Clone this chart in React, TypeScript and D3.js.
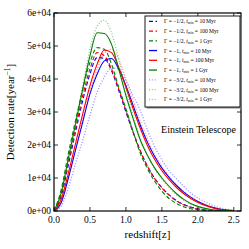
import React from 'react';
import * as d3 from 'd3';

// redshift grid the curves were read at
const zGrid = [0, 0.1, 0.2, 0.3, 0.4, 0.5, 0.6, 0.7, 0.8, 0.9, 1.0, 1.1, 1.2, 1.3, 1.4, 1.5, 1.6, 1.7, 1.8, 1.9, 2.0, 2.1, 2.2, 2.3, 2.4, 2.5];

// detection rates, in units of 1e4 per year
const blueDashed = [0, 0.45, 1.4, 2.4, 3.35, 4.15, 4.65, 4.62, 4.25, 3.65, 3.0, 2.38, 1.82, 1.36, 0.99, 0.71, 0.49, 0.32, 0.2, 0.12, 0.07, 0.03, 0.01, 0, 0, 0];
const redDashed = [0, 0.5, 1.5, 2.5, 3.5, 4.3, 4.8, 4.7, 4.3, 3.7, 3.05, 2.4, 1.82, 1.35, 0.98, 0.7, 0.48, 0.31, 0.19, 0.11, 0.06, 0.03, 0.01, 0, 0, 0];
const greenDashed = [0, 0.65, 1.75, 2.75, 3.7, 4.5, 4.95, 4.9, 4.45, 3.75, 3.1, 2.4, 1.75, 1.28, 0.9, 0.6, 0.38, 0.23, 0.13, 0.07, 0.04, 0.02, 0.01, 0, 0, 0];
const blueSolid = [0, 0.25, 1.0, 1.85, 2.7, 3.55, 4.15, 4.55, 4.62, 4.3, 3.8, 3.2, 2.6, 2.08, 1.65, 1.3, 1.02, 0.78, 0.58, 0.42, 0.29, 0.19, 0.11, 0.06, 0.03, 0.01];
const redSolid = [0, 0.35, 1.15, 2.05, 2.95, 3.8, 4.45, 4.88, 4.8, 4.35, 3.75, 3.1, 2.5, 1.98, 1.56, 1.22, 0.95, 0.72, 0.53, 0.38, 0.26, 0.17, 0.1, 0.05, 0.02, 0.01];
const greenSolid = [0, 0.55, 1.6, 2.65, 3.7, 4.7, 5.4, 5.38, 5.05, 4.3, 3.5, 2.8, 2.15, 1.68, 1.3, 1.0, 0.75, 0.53, 0.36, 0.23, 0.14, 0.08, 0.04, 0.02, 0.01, 0];
const blueDotted = [0, 0.15, 0.7, 1.45, 2.15, 2.9, 3.6, 4.05, 4.33, 4.3, 3.95, 3.5, 3.05, 2.45, 1.95, 1.55, 1.22, 0.98, 0.75, 0.55, 0.4, 0.28, 0.18, 0.1, 0.05, 0.02];
const redDotted = [0, 0.25, 1.0, 1.9, 2.8, 3.65, 4.3, 4.78, 4.9, 4.6, 4.0, 3.35, 2.72, 2.18, 1.72, 1.35, 1.05, 0.8, 0.6, 0.43, 0.3, 0.2, 0.12, 0.06, 0.03, 0.01];
const greenDotted = [0, 0.5, 1.55, 2.65, 3.8, 4.9, 5.6, 5.78, 5.4, 4.6, 3.7, 2.9, 2.2, 1.68, 1.28, 0.97, 0.72, 0.5, 0.33, 0.21, 0.12, 0.07, 0.03, 0.01, 0, 0];

const gammaLabels = ['\u22121/2', '\u22121/2', '\u22121/2', '\u22121', '\u22121', '\u22121', '\u22123/2', '\u22123/2', '\u22123/2'];
const tminLabels = ['10\u2009Myr', '100\u2009Myr', '1\u2009Gyr', '10\u2009Myr', '100\u2009Myr', '1\u2009Gyr', '10\u2009Myr', '100\u2009Myr', '1\u2009Gyr'];

const xTicks = [0, 0.5, 1.0, 1.5, 2.0, 2.5];
const yTicks = [0, 1, 2, 3, 4, 5, 6];
const yTickLabels = ['0e+00', '1e+04', '2e+04', '3e+04', '4e+04', '5e+04', '6e+04'];

const series = [
  { values: blueDashed, color: '#0000ff', style: 'dashed' },
  { values: redDashed, color: '#ff0000', style: 'dashed' },
  { values: greenDashed, color: '#008000', style: 'dashed' },
  { values: blueSolid, color: '#0000ff', style: 'solid' },
  { values: redSolid, color: '#ff0000', style: 'solid' },
  { values: greenSolid, color: '#008000', style: 'solid' },
  { values: blueDotted, color: '#0000ff', style: 'dotted' },
  { values: redDotted, color: '#ff0000', style: 'dotted' },
  { values: greenDotted, color: '#008000', style: 'dotted' },
];

const dashFor = (style: string) => (style === 'dashed' ? '4,2.5' : style === 'dotted' ? '1,1.8' : undefined);

export default function App() {
  const width = 249;
  const height = 249;
  const margin = { top: 13, right: 8, bottom: 38, left: 54 };
  const innerW = width - margin.left - margin.right;
  const innerH = height - margin.top - margin.bottom;

  const x = d3.scaleLinear().domain([0, 2.6]).range([0, innerW]);
  const y = d3.scaleLinear().domain([0, 6]).range([innerH, 0]);

  const line = d3.line<number>()
    .x((_, i) => x(zGrid[i]))
    .y(d => y(d))
    .curve(d3.curveMonotoneX);

  const font = '"Liberation Serif", "DejaVu Serif", serif';
  const tick = 4;

  // legend geometry
  const lg = { x: 145 - margin.left, y: 16 - margin.top, w: 95, h: 91 };
  const rowH = 9.75;

  return (
    <svg width={width} height={height} style={{ position: 'absolute', left: 0, top: 0 }} fontFamily={font}>
      <rect width={width} height={height} fill="#fff" />
      <g transform={`translate(${margin.left},${margin.top})`}>
        <defs>
          <clipPath id="plot">
            <rect width={innerW} height={innerH} />
          </clipPath>
        </defs>
        <g clipPath="url(#plot)">
          {series.map((s, i) => (
            <path
              key={i}
              d={line(s.values) || ''}
              fill="none"
              stroke={s.color}
              strokeOpacity={s.style === 'dotted' ? 0.45 : 1}
              strokeWidth={s.style === 'dotted' ? 1.3 : 1.1}
              strokeDasharray={dashFor(s.style)}
            />
          ))}
        </g>

        {/* ticks on all four sides, pointing in */}
        {xTicks.map(t => (
          <g key={`x${t}`}>
            <line x1={x(t)} x2={x(t)} y1={innerH} y2={innerH - tick} stroke="#000" strokeWidth={0.8} />
            <line x1={x(t)} x2={x(t)} y1={0} y2={tick} stroke="#000" strokeWidth={0.8} />
            <text x={x(t)} y={innerH + 12} textAnchor="middle" fontSize={9.5}>{t.toFixed(1)}</text>
          </g>
        ))}
        {yTicks.map((t, i) => (
          <g key={`y${t}`}>
            <line x1={0} x2={tick} y1={y(t)} y2={y(t)} stroke="#000" strokeWidth={0.8} />
            <line x1={innerW} x2={innerW - tick} y1={y(t)} y2={y(t)} stroke="#000" strokeWidth={0.8} />
            <text x={-3} y={y(t)} dy="0.35em" textAnchor="end" fontSize={9.5}>{yTickLabels[i]}</text>
          </g>
        ))}

        <rect width={innerW} height={innerH} fill="none" stroke="#000" strokeWidth={1.2} />

        {/* legend */}
        <rect x={lg.x + 1.5} y={lg.y + 1.5} width={lg.w} height={lg.h} fill="#888" />
        <rect x={lg.x} y={lg.y} width={lg.w} height={lg.h} fill="#fff" stroke="#000" strokeWidth={0.9} />
        {series.map((s, i) => {
          const ly = lg.y + 5.3 + i * rowH;
          return (
            <g key={`l${i}`}>
              <line
                x1={lg.x + 4}
                x2={lg.x + 12}
                y1={ly}
                y2={ly}
                stroke={s.color}
                strokeOpacity={s.style === 'dotted' ? 0.45 : 1}
                strokeWidth={s.style === 'solid' ? 1.3 : 1.2}
                strokeDasharray={dashFor(s.style)}
              />
              <text x={lg.x + 19} y={ly} dy="0.35em" fontSize={5.6}>
                {'\u0393 = ' + gammaLabels[i] + ', '}
                <tspan fontStyle="italic">t</tspan>
                <tspan fontSize={3.6} dy="1.2">min</tspan>
                <tspan dy="-1.2">{' = ' + tminLabels[i]}</tspan>
              </text>
            </g>
          );
        })}

        <text x={innerW - 5} y={120} textAnchor="end" fontSize={10}>Einstein Telescope</text>

        <text x={innerW / 2} y={innerH + 27} textAnchor="middle" fontSize={11}>redshift[z]</text>
        <text transform={`translate(${-40},${innerH / 2}) rotate(-90)`} textAnchor="middle" fontSize={11}>
          Detection rate[year<tspan fontSize={7.5} dy="-4">{'\u22121'}</tspan><tspan dy="4">]</tspan>
        </text>
      </g>
    </svg>
  );
}
